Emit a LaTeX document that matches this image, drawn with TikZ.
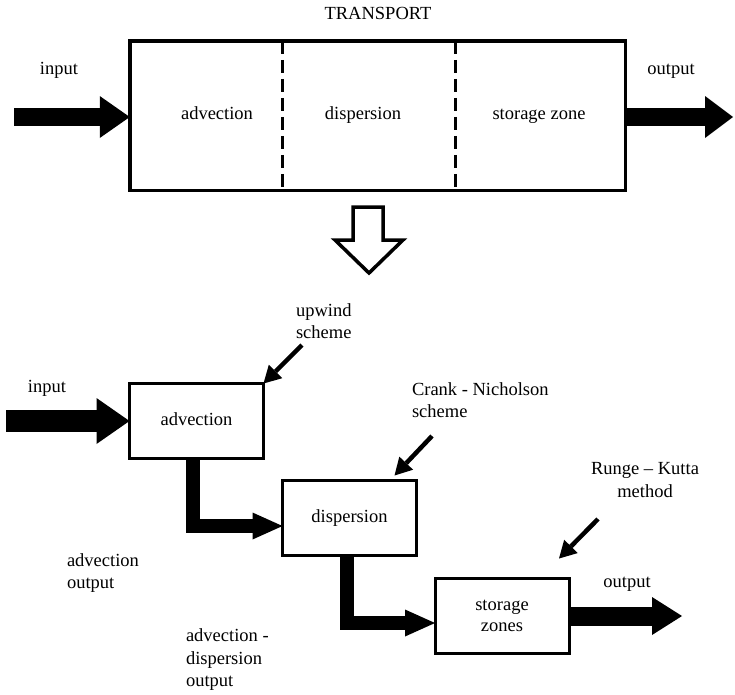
\documentclass[tikz,border=0pt]{standalone}
\usepackage{fontspec}
\setmainfont{Liberation Serif}
\usetikzlibrary{arrows.meta,calc}
\begin{document}
\begin{tikzpicture}[x=1pt,y=-1pt,
  every node/.style={font=\fontsize{18.5}{22.5}\selectfont, inner sep=0pt, outer sep=0pt},
  oneline/.style={text height=12.5pt, text depth=4pt},
  box/.style={draw, line width=3pt, minimum width=134pt, minimum height=75pt, align=center},
  bigbox/.style={draw, line width=3.5pt, minimum width=495.5pt, minimum height=149.5pt},
  divider/.style={line width=3pt, dash pattern=on 13pt off 6pt},
  fat/.style n args={3}{line width=#1, line join=miter,
    -{Triangle[length=#2, width=#3, line width=0pt]}},
  pointer/.style={line width=4.5pt,
    -{Triangle[length=17pt, width=19pt, line width=0pt]}},
  label/.style={align=left, anchor=west}
]
\useasboundingbox (0,0) rectangle (735,694);

% ---- overall transport process ----
\node[oneline] (title) at (378,15) {TRANSPORT};
\node[bigbox] (main) at (377.5,115.5) {};
\coordinate (d1) at (282,0);
\coordinate (d2) at (455,0);
\draw[divider] (main.north -| d1) -- (main.south -| d1);
\draw[divider] (main.north -| d2) -- (main.south -| d2);
\node[oneline] (t1) at (217,115) {advection};
\node[oneline] (t2) at (363,115) {dispersion};
\node[oneline] (t3) at (539,115) {storage zone};

\node[oneline] (inlab) at (59,70) {input};
\node[oneline] (outlab) at (671,70) {output};
\coordinate (in1) at (14,117);
\coordinate (out1) at (733,117);
\draw[fat={18pt}{30pt}{42pt}] (in1) -- (in1 -| main.west);
\draw[fat={18pt}{28pt}{42pt}] (out1 -| main.east) -- (out1);

% ---- splitting into sub-processes ----
\draw[line width=3.5pt, line join=miter, fill=white]
  (353,207) -- (383,207) -- (383,240) -- (403,240) -- (369,273)
  -- (335,240) -- (353,240) -- cycle;

% ---- operator splitting chain ----
\node[box, oneline] (adv)  at (196.5,421) {advection};
\node[box, oneline] (disp) at (349.5,518) {dispersion};
\node[box] (stor) at (502,616) {storage\\[-1pt]zones};

\node[oneline] (inlab2) at (47,388) {input};
\coordinate (in2) at (6,421);
\draw[fat={22pt}{33pt}{46pt}] (in2) -- (in2 -| adv.west);

\node[oneline] (outlab2) at (627,583) {output};
\coordinate (out2) at (682,616);
\draw[fat={19pt}{30pt}{38pt}] (out2 -| stor.east) -- (out2);

\coordinate (l1) at (193,526);
\draw[fat={14pt}{30pt}{27pt}] (adv.south -| l1) |- (disp.west |- l1);
\coordinate (l2) at (347,623);
\draw[fat={14pt}{30pt}{27pt}] (disp.south -| l2) |- (stor.west |- l2);

% ---- numerical schemes ----
\node[label] (upw) at (296,321) {upwind\\scheme};
\coordinate (p1) at (302,345);
\draw[pointer] (p1) -- (adv.north east);

\node[label] (crank) at (412,400) {Crank - Nicholson\\scheme};
\coordinate (p2) at (432,436);
\draw[pointer] (p2) -- ($(disp.north east)+(-22,-5)$);

\node[align=center] (rk) at (645,480) {Runge -- Kutta\\method};
\coordinate (p3) at (598,519);
\draw[pointer] (p3) -- ($(stor.north east)+(-10,-20)$);

% ---- intermediate results ----
\node[label] (advout) at (67,573) {advection\\output};
\node[label] (adout) at (186,660) {advection -\\dispersion\\output};
\end{tikzpicture}
\end{document}
